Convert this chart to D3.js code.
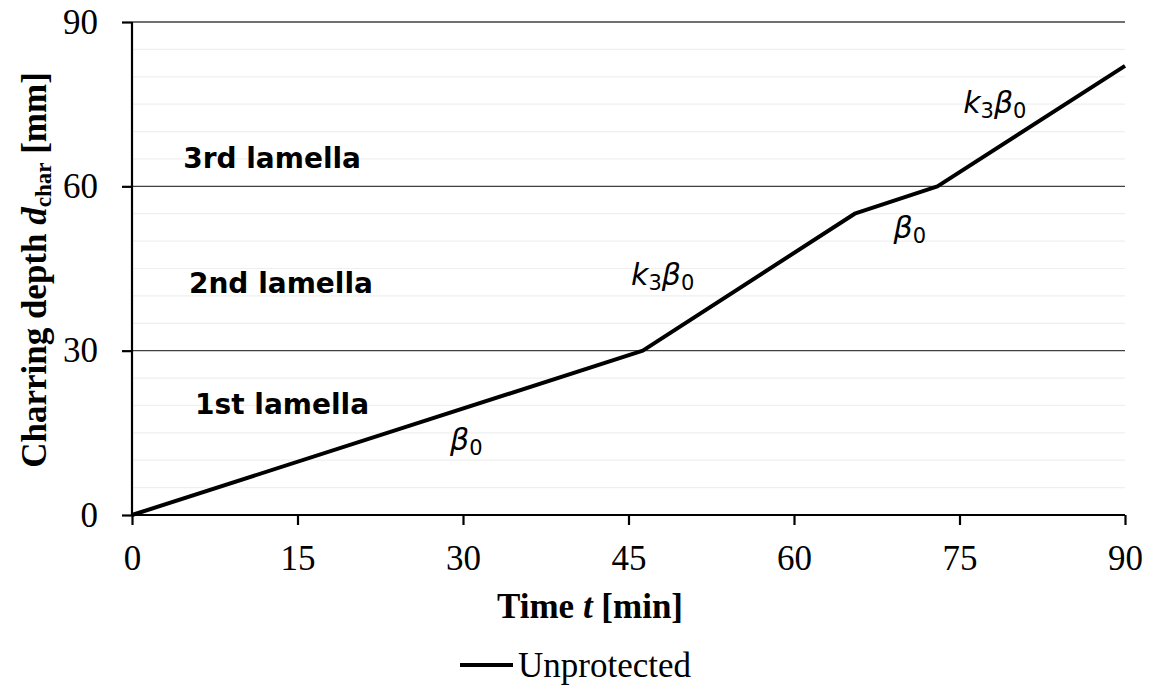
<!DOCTYPE html>
<html>
<head>
<meta charset="utf-8">
<script src="https://cdn.jsdelivr.net/npm/d3@7"></script>
<style>
  body { margin: 0; background: #fff; }
</style>
</head>
<body>
<svg id="chart" width="1163" height="685"></svg>
<script>
// Data
const timeMin = [0, 46.3, 65.5, 73, 90];
const charDepth = [0, 30, 55, 60, 82];
const xTicks = [0, 15, 30, 45, 60, 75, 90];
const yTicks = [0, 30, 60, 90];
const minorY = d3.range(5, 90, 5).filter(v => v % 30 !== 0);
const lamellaNames = ["1st lamella", "2nd lamella", "3rd lamella"];
const lamellaPos = [[13.6, 18.4], [13.5, 40.6], [12.7, 63.4]];
const rateLabels = [
  { t: 30.3, d: 11.8, k: false },
  { t: 48.1, d: 41.9, k: true },
  { t: 70.5, d: 50.5, k: false },
  { t: 78.2, d: 73.4, k: true },
];

const serif = "'Liberation Serif', 'Times New Roman', serif";
const sans = "'DejaVu Sans', Verdana, sans-serif";

// Layout
const margin = { top: 22, right: 38, bottom: 170, left: 132 };
const width = 1163 - margin.left - margin.right;
const height = 685 - margin.top - margin.bottom;

const svg = d3.select("#chart");
const g = svg.append("g").attr("transform", `translate(${margin.left},${margin.top})`);

const x = d3.scaleLinear().domain([0, 90]).range([0, width]);
const y = d3.scaleLinear().domain([0, 90]).range([height, 0]);

// Minor grid lines
g.selectAll(".minor")
  .data(minorY)
  .enter()
  .append("line")
  .attr("x1", 0).attr("x2", width)
  .attr("y1", d => y(d)).attr("y2", d => y(d))
  .attr("stroke", "#efefef").attr("stroke-width", 1.2);

// Major grid lines
g.selectAll(".major")
  .data(yTicks.filter(d => d > 0))
  .enter()
  .append("line")
  .attr("x1", 0).attr("x2", width)
  .attr("y1", d => y(d)).attr("y2", d => y(d))
  .attr("stroke", "#404040").attr("stroke-width", 1.3);

// Axes
const xAxis = g.append("g")
  .attr("transform", `translate(0,${height})`)
  .call(d3.axisBottom(x).tickValues(xTicks).tickSize(10).tickPadding(20));
const yAxis = g.append("g")
  .call(d3.axisLeft(y).tickValues(yTicks).tickSize(10).tickPadding(24));

[xAxis, yAxis].forEach(a => {
  a.attr("font-family", serif).attr("font-size", 35);
  a.select(".domain").attr("stroke", "#000").attr("stroke-width", 2.2);
  a.selectAll(".tick line").attr("stroke", "#000").attr("stroke-width", 2.2);
  a.selectAll(".tick text").attr("fill", "#000");
});
xAxis.select(".domain").attr("d", `M0,0H${width}`);
yAxis.select(".domain").attr("d", `M0,${height}V0`);

// Lamella labels
g.selectAll(".lamella")
  .data(lamellaNames)
  .enter()
  .append("text")
  .attr("font-family", sans)
  .attr("font-weight", "bold")
  .attr("font-size", 28)
  .attr("text-anchor", "middle")
  .attr("x", (d, i) => x(lamellaPos[i][0]))
  .attr("y", (d, i) => y(lamellaPos[i][1]))
  .text(d => d);

// Data line
const line = d3.line().x(d => x(d[0])).y(d => y(d[1]));
g.append("path")
  .datum(timeMin.map((t, i) => [t, charDepth[i]]))
  .attr("d", line)
  .attr("fill", "none")
  .attr("stroke", "#000")
  .attr("stroke-width", 4)
  .attr("stroke-linejoin", "round");

// Rate labels
rateLabels.forEach(r => {
  const txt = g.append("text")
    .attr("font-family", sans).attr("font-style", "italic").attr("font-size", 30)
    .attr("x", x(r.t)).attr("y", y(r.d)).attr("text-anchor", "middle");
  if (r.k) {
    txt.append("tspan").text("k");
    txt.append("tspan").attr("font-style", "normal").attr("font-size", 21).attr("dy", 5).text("3");
    txt.append("tspan").attr("dy", -5).text("β");
  } else {
    txt.append("tspan").text("β");
  }
  txt.append("tspan").attr("font-style", "normal").attr("font-size", 21).attr("dy", 5).text("0");
});

// X axis title
const xt = svg.append("text")
  .attr("font-family", serif).attr("font-weight", "bold").attr("font-size", 35)
  .attr("x", 590).attr("y", 618).attr("text-anchor", "middle");
xt.append("tspan").text("Time ");
xt.append("tspan").attr("font-style", "italic").text("t");
xt.append("tspan").text(" [min]");

// Y axis title
const yt = svg.append("text")
  .attr("font-family", serif).attr("font-weight", "bold").attr("font-size", 35)
  .attr("transform", "translate(46,270) rotate(-90)")
  .attr("text-anchor", "middle");
yt.append("tspan").text("Charring depth ");
yt.append("tspan").attr("font-style", "italic").text("d");
yt.append("tspan").attr("font-size", 23).attr("dy", 5).text("char");
yt.append("tspan").attr("dy", -5).text(" [mm]");

// Legend
const legend = svg.append("g").attr("transform", "translate(460,665)");
legend.append("line").attr("x1", 0).attr("x2", 53).attr("y1", 0).attr("y2", 0)
  .attr("stroke", "#000").attr("stroke-width", 4);
legend.append("text")
  .attr("font-family", serif).attr("font-size", 35)
  .attr("x", 58).attr("y", 12).text("Unprotected");
</script>
</body>
</html>
